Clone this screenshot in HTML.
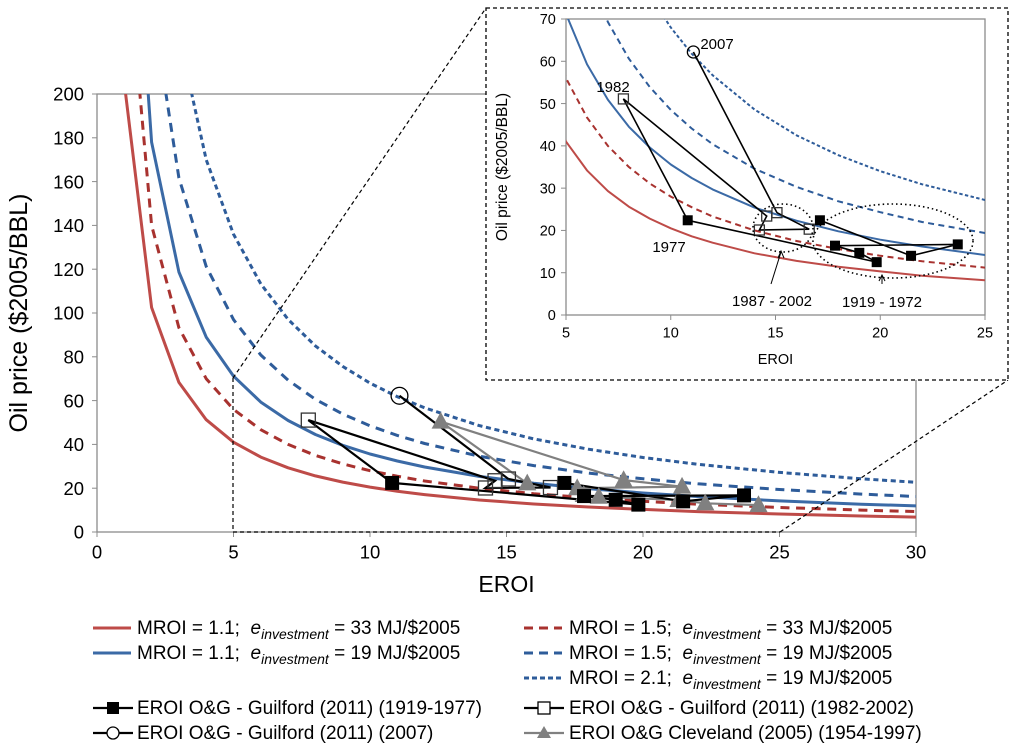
<!DOCTYPE html>
<html><head><meta charset="utf-8"><style>
body{margin:0;background:#fff}
svg{display:block;font-family:"Liberation Sans",sans-serif}
</style></head><body>
<svg id="c" width="1024" height="749" viewBox="0 0 1024 749"></svg>
<script>
const eroiGrid=[1,2,3,4,5,6,7,8,9,10,11,12,14,16,18,20,22,25,28,30];
const redSolid=[205,102.5,68.3,51.3,41,34.2,29.3,25.6,22.8,20.5,18.6,17.1,14.6,12.8,11.4,10.3,9.3,8.2,7.3,6.8];
const redDashed=[280,140,93.3,70,56,46.7,40,35,31.1,28,25.5,23.3,20,17.5,15.6,14,12.7,11.2,10,9.3];
const blueSolid=[356,178,118.7,89,71.2,59.3,50.9,44.5,39.6,35.6,32.4,29.7,25.4,22.3,19.8,17.8,16.2,14.2,12.7,11.9];
const blueDashed=[485,242.5,161.7,121.3,97,80.8,69.3,60.6,53.9,48.5,44.1,40.4,34.6,30.3,26.9,24.3,22,19.4,17.3,16.2];
const blueDotted=[680,340,226.7,170,136,113.3,97.1,85,75.6,68,61.8,56.7,48.6,42.5,37.8,34,30.9,27.2,24.3,22.7];
const g1919X=[17.12,21.47,23.7,17.84,19.0,19.83,10.81];
const g1919Y=[22.4,14.0,16.7,16.4,14.7,12.5,22.4];
const g1982X=[10.81,7.74,14.58,14.23,16.61,15.07];
const g1982Y=[22.4,51.1,23.4,20.1,20.3,24.2];
const g2007X=[15.07,11.08];
const g2007Y=[24.2,62.2];
const clevX=[24.23,22.28,21.3,18.38,17.83,17.59,21.43,19.29,12.59,15.76];
const clevY=[12.3,13.1,14.6,16.1,16.9,20.0,20.7,23.7,50.4,22.2];
const mainXTicks=[0,5,10,15,20,25,30];
const mainYTicks=[0,20,40,60,80,100,120,140,160,180,200];
const insetXTicks=[5,10,15,20,25];
const insetYTicks=[0,10,20,30,40,50,60,70];

const NS="http://www.w3.org/2000/svg";
const svg=document.getElementById('c');
function mk(tag,attrs,parent,name,inter){
  const e=document.createElementNS(NS,tag);
  for(const k in attrs)e.setAttribute(k,attrs[k]);
  
  
  (parent||svg).appendChild(e);return e;
}
const defs=document.createElementNS(NS,'defs');svg.appendChild(defs);
function clip(id,x,y,w,h){const cp=document.createElementNS(NS,'clipPath');cp.setAttribute('id',id);const r=document.createElementNS(NS,'rect');r.setAttribute('x',x);r.setAttribute('y',y);r.setAttribute('width',w);r.setAttribute('height',h);cp.appendChild(r);defs.appendChild(cp);}

const curves=[
 {v:redSolid,c:'#be4b48',d:'',n:'curve-mroi-1-1-33'},
 {v:redDashed,c:'#a8322f',d:'dash',n:'curve-mroi-1-5-33'},
 {v:blueSolid,c:'#3b6aa6',d:'',n:'curve-mroi-1-1-19'},
 {v:blueDashed,c:'#2e5c9a',d:'dash',n:'curve-mroi-1-5-19'},
 {v:blueDotted,c:'#2e5c9a',d:'dot',n:'curve-mroi-2-1-19'}];

function chart(o){
  const X=v=>o.x0+(v-o.xmin)/(o.xmax-o.xmin)*(o.x1-o.x0);
  const Y=v=>o.y0-(v-o.ymin)/(o.ymax-o.ymin)*(o.y0-o.y1);
  const g=mk('g',{},svg,o.name,false);
  if(o.bg)mk('rect',{x:o.bg[0],y:o.bg[1],width:o.bg[2],height:o.bg[3],fill:'#fff',stroke:'#000','stroke-width':1.3,'stroke-dasharray':'4,3'},g,'inset-box',false);
  mk('rect',{x:o.x0,y:o.y1,width:o.x1-o.x0,height:o.y0-o.y1,fill:'none',stroke:'#8c8c8c','stroke-width':1.3},g,'plot-frame',false);
  o.xt.forEach(t=>{
    mk('line',{x1:X(t),x2:X(t),y1:o.y0,y2:o.y0+5,stroke:'#8c8c8c'},g,'x-tick',false);
    const tx=mk('text',{x:X(t),y:o.y0+o.fs+8,'text-anchor':'middle','font-size':o.fs,fill:'#000'},g,'x-tick-label',false);tx.textContent=t;});
  o.yt.forEach(t=>{
    mk('line',{x1:o.x0-5,x2:o.x0,y1:Y(t),y2:Y(t),stroke:'#8c8c8c'},g,'y-tick',false);
    const tx=mk('text',{x:o.x0-o.fs*0.7,y:Y(t)+o.fs*0.36,'text-anchor':'end','font-size':o.fs,fill:'#000'},g,'y-tick-label',false);tx.textContent=t;});
  const xl=mk('text',{x:(o.x0+o.x1)/2,y:o.xly,'text-anchor':'middle','font-size':o.xfs,fill:'#000'},g,'x-axis-title',false);xl.textContent='EROI';
  const yl=mk('text',{x:0,y:0,transform:`translate(${o.ylx},${(o.y0+o.y1)/2}) rotate(-90)`,'text-anchor':'middle','font-size':o.yfs,fill:'#000'},g,'y-axis-title',false);yl.textContent='Oil price ($2005/BBL)';
  clip(o.name+'-clip',o.x0,o.y1,o.x1-o.x0,o.y0-o.y1);
  const pg=mk('g',{'clip-path':`url(#${o.name}-clip)`},g,'plot-area',false);
  curves.forEach(cv=>{
    const pts=eroiGrid.map((e,i)=>X(e).toFixed(1)+','+Y(cv.v[i]).toFixed(1)).join(' ');
    const a={points:pts,fill:'none',stroke:cv.c,'stroke-width':o.lw,'stroke-linejoin':'round'};
    if(cv.d==='dash')a['stroke-dasharray']=o.lw*3+','+o.lw*2.2;
    if(cv.d==='dot')a['stroke-dasharray']=o.lw*1.7+','+o.lw*1.2;
    mk('polyline',a,pg,cv.n,false);});
  const series=[];
  if(o.cleveland)series.push({x:clevX,y:clevY,c:'#808080',m:'tri',n:'cleveland-1954-1997'});
  series.push({x:g1919X,y:g1919Y,c:'#000',m:'fsq',n:'guilford-1919-1977'});
  series.push({x:g1982X,y:g1982Y,c:'#000',m:'osq',n:'guilford-1982-2002'});
  series.push({x:g2007X,y:g2007Y,c:'#000',m:'circ',n:'guilford-2007'});
  series.forEach(s=>{
    const pts=s.x.map((e,i)=>X(e).toFixed(1)+','+Y(s.y[i]).toFixed(1)).join(' ');
    mk('polyline',{points:pts,fill:'none',stroke:s.c,'stroke-width':o.dlw},pg,s.n+'-line',false);});
  series.forEach(s=>{
    const m=o.ms;
    s.x.forEach((e,i)=>{
      if(s.m==='osq'&&i===0)return;
      if(s.m==='circ'&&i===0)return;
      const cx=X(e),cy=Y(s.y[i]);
      if(s.m==='fsq')mk('rect',{x:cx-m/2,y:cy-m/2,width:m,height:m,fill:'#000'},pg,s.n+'-point',false);
      if(s.m==='osq')mk('rect',{x:cx-m/2,y:cy-m/2,width:m,height:m,fill:'none',stroke:'#333','stroke-width':1.3},pg,s.n+'-point',false);
      if(s.m==='circ')mk('circle',{cx:cx,cy:cy,r:m*0.6,fill:'none',stroke:'#000','stroke-width':1.3},pg,s.n+'-point',false);
      if(s.m==='tri')mk('polygon',{points:`${cx},${cy-m*0.7} ${cx-m*0.65},${cy+m*0.5} ${cx+m*0.65},${cy+m*0.5}`,fill:'#808080'},pg,s.n+'-point',false);
    });});
  return {X,Y,g};
}

const main=chart({name:'main-chart',x0:97,x1:916,y0:532,y1:94,xmin:0,xmax:30,ymin:0,ymax:200,xt:mainXTicks,yt:mainYTicks,fs:18.5,xfs:23,yfs:25,xly:592,ylx:27,lw:3,dlw:2.2,ms:14,cleveland:true});
// zoom guide
mk('polyline',{points:`233,378 233,532 780,532`,fill:'none',stroke:'#000','stroke-width':1.2,'stroke-dasharray':'4,3'},svg,'zoom-region',false);
mk('line',{x1:233,y1:378,x2:486,y2:8,stroke:'#000','stroke-width':1.2,'stroke-dasharray':'4,3'},svg,'zoom-connector',false);
mk('line',{x1:780,y1:532,x2:1008,y2:380,stroke:'#000','stroke-width':1.2,'stroke-dasharray':'4,3'},svg,'zoom-connector',false);
const ins=chart({name:'inset-chart',bg:[486,8,522,372],x0:566,x1:985,y0:315,y1:19,xmin:5,xmax:25,ymin:0,ymax:70,xt:insetXTicks,yt:insetYTicks,fs:14.5,xfs:14.5,yfs:15.5,xly:364,ylx:507,lw:2,dlw:1.6,ms:10,cleveland:false});
// inset annotations
function txt(x,y,s,t,name,anchor){const e=mk('text',{x:x,y:y,'font-size':s,'text-anchor':anchor||'middle',fill:'#000'},svg,name,false);e.textContent=t;return e;}
txt(717,49,15,'2007','label-2007');
txt(613,92,15,'1982','label-1982');
txt(669,252,15,'1977','label-1977');
mk('ellipse',{cx:783,cy:228,rx:30,ry:24,fill:'none',stroke:'#000','stroke-width':1.6,'stroke-dasharray':'1.5,3'},svg,'ellipse-1987-2002',false);
mk('ellipse',{cx:893,cy:241,rx:80,ry:37,fill:'none',stroke:'#000','stroke-width':1.6,'stroke-dasharray':'1.5,3'},svg,'ellipse-1919-1972',false);
mk('line',{x1:771,y1:284,x2:781,y2:252,stroke:'#000','stroke-width':1},svg,'arrow-1987-2002',false);
mk('polyline',{points:'778,258 781,251 784,258',fill:'none',stroke:'#000','stroke-width':1},svg,'arrowhead',false);
mk('line',{x1:882,y1:284,x2:882,y2:276,stroke:'#000','stroke-width':1},svg,'arrow-1919-1972',false);
mk('polyline',{points:'879,281 882,275 885,281',fill:'none',stroke:'#000','stroke-width':1},svg,'arrowhead',false);
txt(772,306,15,'1987 - 2002','label-1987-2002');
txt(882,307,15,'1919 - 1972','label-1919-1972');

// legend
const leg=mk('g',{},svg,'legend',false);
function mroiEntry(lx,tx,y,col,dash,mroi,ev,name){
  const e=mk('g',{},leg,name,false);
  const a={x1:lx,x2:lx+38,y1:y-6,y2:y-6,stroke:col,'stroke-width':3};
  if(dash)a['stroke-dasharray']=dash;
  mk('line',a,e,'legend-swatch',false);
  const t=mk('text',{x:tx,y:y,'font-size':19,fill:'#000'},e,'legend-label',false);
  t.innerHTML=`MROI = ${mroi};&#160;&#160;<tspan font-style="italic">e</tspan><tspan font-style="italic" font-size="14" dy="5">investment</tspan><tspan dy="-5"> = ${ev} MJ/$2005</tspan>`;
}
mroiEntry(93,137,634,'#be4b48','', '1.1','33','legend-mroi-1-1-33');
mroiEntry(93,137,659,'#3b6aa6','', '1.1','19','legend-mroi-1-1-19');
mroiEntry(524,569,634,'#a8322f','9,6','1.5','33','legend-mroi-1-5-33');
mroiEntry(524,569,659,'#2e5c9a','9,6','1.5','19','legend-mroi-1-5-19');
mroiEntry(524,569,684,'#2e5c9a','5,3','2.1','19','legend-mroi-2-1-19');
function dataEntry(lx,tx,y,col,mk2,label,name){
  const e=mk('g',{},leg,name,false);
  const cy=y-6,cx=lx+20;
  mk('line',{x1:lx,x2:lx+40,y1:cy,y2:cy,stroke:col,'stroke-width':2.2},e,'legend-swatch',false);
  if(mk2==='fsq')mk('rect',{x:cx-6,y:cy-6,width:12,height:12,fill:'#000'},e,'legend-marker',false);
  if(mk2==='osq')mk('rect',{x:cx-6,y:cy-6,width:12,height:12,fill:'#fff',stroke:'#000','stroke-width':1.3},e,'legend-marker',false);
  if(mk2==='circ')mk('circle',{cx:cx,cy:cy,r:6,fill:'#fff',stroke:'#000','stroke-width':1.3},e,'legend-marker',false);
  if(mk2==='tri')mk('polygon',{points:`${cx},${cy-7} ${cx-7},${cy+5} ${cx+7},${cy+5}`,fill:'#808080'},e,'legend-marker',false);
  const t=mk('text',{x:tx,y:y,'font-size':19,fill:'#000'},e,'legend-label',false);t.textContent=label;
}
dataEntry(93,137,714,'#000','fsq','EROI O&G - Guilford (2011) (1919-1977)','legend-guilford-1919-1977');
dataEntry(93,137,739,'#000','circ','EROI O&G - Guilford (2011) (2007)','legend-guilford-2007');
dataEntry(524,569,714,'#000','osq','EROI O&G - Guilford (2011) (1982-2002)','legend-guilford-1982-2002');
dataEntry(524,569,739,'#808080','tri','EROI O&G Cleveland (2005) (1954-1997)','legend-cleveland-1954-1997');
</script>
</body></html>
